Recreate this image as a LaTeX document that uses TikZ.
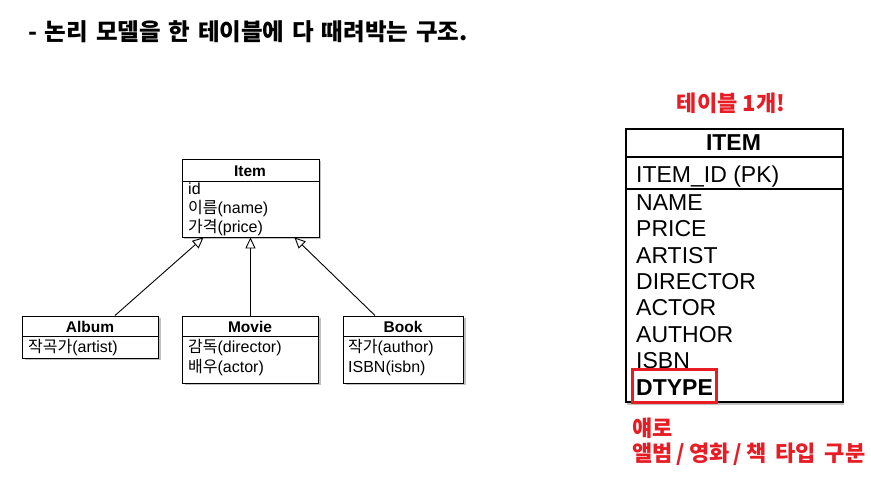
\documentclass[tikz,border=0pt]{standalone}
\usepackage{fontspec}
\setmainfont{Liberation Sans}
\newfontfamily\cjk{Noto Sans CJK KR}
\newcommand\kr[1]{{\cjk #1}}
\newcommand\slsep{\hspace{4pt}/\hspace{4pt}}
\newcommand\wsp[2]{{\spaceskip=#1\relax #2}}
\definecolor{hred}{RGB}{232,28,36}
\usetikzlibrary{arrows.meta,shadows,calc}
\tikzset{
  umlbox/.style={draw=black, line width=0.9pt, fill=white, rectangle, inner sep=0pt, anchor=north west,
    drop shadow={shadow xshift=2.5pt, shadow yshift=-2.5pt, opacity=0.4, fill=black!60}},
  tblbox/.style={draw=black, line width=1.8pt, fill=white, rectangle, inner sep=0pt, anchor=north west,
    drop shadow={shadow xshift=1.5pt, shadow yshift=-3pt, opacity=0.4, fill=black!60}},
  umlhead/.style={font=\fontsize{15.5}{18}\selectfont\bfseries, anchor=base, inner sep=0pt},
  umlattr/.style={font=\fontsize{16}{18}\selectfont, anchor=base west, inner sep=0pt},
  tblhead/.style={font=\fontsize{23}{26}\selectfont\bfseries, anchor=base, inner sep=0pt},
  tblattr/.style={font=\fontsize{23}{26}\selectfont, anchor=base west, inner sep=0pt},
  inh/.style={line width=0.9pt, -{Triangle[open, length=11pt, width=10pt, fill=white]}},
  redtxt/.style={font=\cjk\fontsize{22}{26}\selectfont\bfseries, text=hred, anchor=base west, inner sep=0pt},
}
\begin{document}
\begin{tikzpicture}[x=1pt,y=-1pt]
\useasboundingbox[fill=white] (0,0) rectangle (871,479);

% title
\node[font=\cjk\fontsize{23.5}{26}\selectfont\bfseries, anchor=base west, inner sep=0pt] (title) at (28,41)
  {\wsp{7.8pt}{- 논리 모델을 한 테이블에 다 때려박는 구조.}};

% UML classes
\node[umlbox, minimum width=137pt, minimum height=78pt] (item) at (181.5,158.5) {};
\draw[line width=0.9pt] (181.5,181) -- (318.5,181);
\node[umlhead] (itemh) at (250,176) {Item};
\node[umlattr] (ia1) at (188,194) {id};
\node[umlattr] (ia2) at (188,213) {\kr{이름}(name)};
\node[umlattr] (ia3) at (188,232) {\kr{가격}(price)};

\node[umlbox, minimum width=136pt, minimum height=42pt] (album) at (22,315.5) {};
\draw[line width=0.9pt] (22,336.5) -- (158,336.5);
\node[umlhead] (albumh) at (90,332) {Album};
\node[umlattr] (aa1) at (28,352) {\kr{작곡가}(artist)};

\node[umlbox, minimum width=136pt, minimum height=67pt] (movie) at (182,315.5) {};
\draw[line width=0.9pt] (182,336.5) -- (318,336.5);
\node[umlhead] (movieh) at (250,332) {Movie};
\node[umlattr] (ma1) at (188,352) {\kr{감독}(director)};
\node[umlattr] (ma2) at (188,372) {\kr{배우}(actor)};

\node[umlbox, minimum width=120pt, minimum height=67pt] (book) at (343,315.5) {};
\draw[line width=0.9pt] (343,336.5) -- (463,336.5);
\node[umlhead] (bookh) at (403,332) {Book};
\node[umlattr] (ba1) at (348,352) {\kr{작가}(author)};
\node[umlattr] (ba2) at (348,372) {ISBN(isbn)};

% inheritance
\coordinate (aStart) at ($(album.north west)+(93,0)$);
\coordinate (aEnd) at ($(item.south west)+(22,0)$);
\coordinate (bStart) at ($(book.north west)+(32,0)$);
\coordinate (bEnd) at ($(item.south east)+(-25,0)$);
\draw[inh] (aStart) -- (aEnd);
\draw[inh] (movie.north) -- (item.south);
\draw[inh] (bStart) -- (bEnd);

% table
\node[tblbox, minimum width=217pt, minimum height=273pt] (tbl) at (625,128) {};
\draw[line width=1.8pt] (625,157) -- (842,157);
\draw[line width=1.8pt] (625,189) -- (842,189);
\node[tblhead] (tblh) at (733.5,150) {ITEM};
\node[tblattr] (pk) at (636,182) {ITEM\_ID (PK)};
\node[tblattr] (c1) at (636,210) {NAME};
\node[tblattr] (c2) at (636,236.5) {PRICE};
\node[tblattr] (c3) at (636,263) {ARTIST};
\node[tblattr] (c4) at (636,289) {DIRECTOR};
\node[tblattr] (c5) at (636,315.5) {ACTOR};
\node[tblattr] (c6) at (636,342) {AUTHOR};
\node[tblattr] (c7) at (636,368.5) {ISBN};
\node[tblattr, font=\fontsize{23}{26}\selectfont\bfseries] (c8) at (636,395.5) {DTYPE};
\draw[draw=hred, line width=3pt] (632,369) rectangle (716,402);

% red notes
\node[redtxt, anchor=base] (note1) at (731,111) {테이블 1개!};
\node[redtxt] (note2) at (632,436) {얘로};
\node[redtxt] (note3) at (632,461) {\wsp{9pt}{앨범\slsep 영화\slsep 책 타입 구분}};
\end{tikzpicture}
\end{document}
